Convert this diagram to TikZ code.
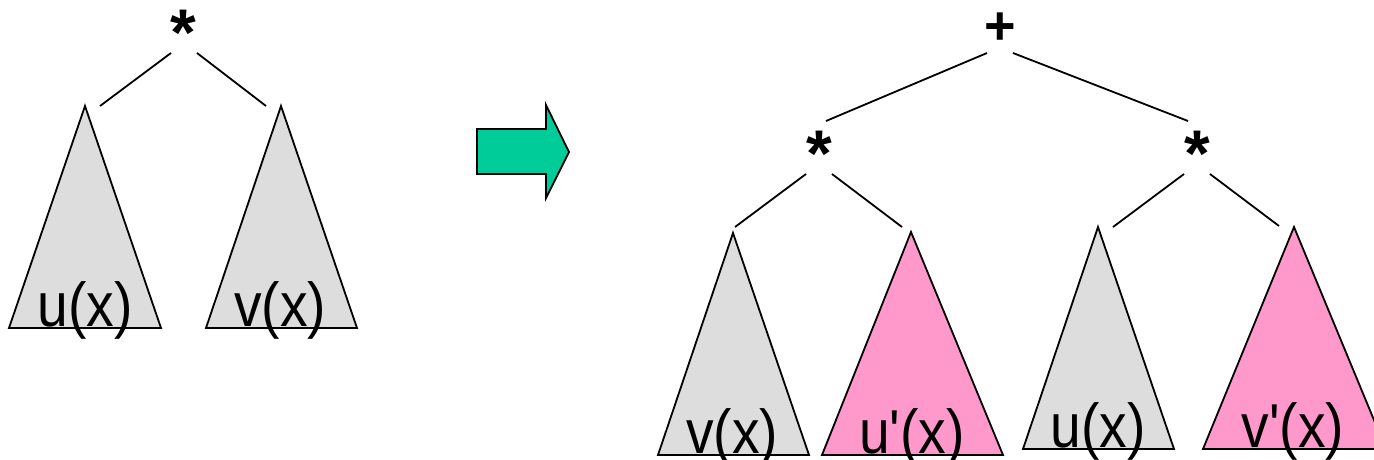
\documentclass[tikz,border=0pt]{standalone}
\usepackage{fontspec}
\setmainfont{Liberation Sans}[Ligatures=TeXOff]
\definecolor{triGray}{HTML}{DDDDDD}
\definecolor{triPink}{HTML}{FF99CC}
\definecolor{arrowGreen}{HTML}{00CC99}
\begin{document}
\begin{tikzpicture}[x=1pt,y=-1pt,
  edge/.style={line width=1.8pt},
  tri/.style={draw=black, line width=1.8pt, line join=miter},
  graytri/.style={tri, fill=triGray},
  pinktri/.style={tri, fill=triPink},
  lbl/.style={anchor=base, inner sep=0pt, font=\fontsize{62}{74}\selectfont},
  opstar/.style={anchor=north, inner sep=0pt, font=\bfseries\fontsize{66}{80}\selectfont},
  opplus/.style={anchor=north, inner sep=0pt, font=\bfseries\fontsize{54}{66}\selectfont}]
\useasboundingbox (0,0) rectangle (1374,459);

% ---------- left tree ----------
\node[opstar] (m0) at (183,10) {*};
\coordinate (m0l) at (171,53);
\coordinate (m0r) at (197,53);
\coordinate (a1) at (85,106);
\coordinate (a2) at (281,106);
\coordinate (e1) at (100,106);
\coordinate (e2) at (266,106);
\draw[graytri] (a1) -- (9,328) -- (161,328) -- cycle;
\draw[graytri] (a2) -- (206,328) -- (357,328) -- cycle;
\draw[edge] (m0l) -- (e1);
\draw[edge] (m0r) -- (e2);
\node[lbl] (lu) at (85,326) {\scalebox{0.89}[1]{u(x)}};
\node[lbl] (lv) at (280,326) {\scalebox{0.89}[1]{v(x)}};

% ---------- arrow ----------
\draw[line width=1.8pt, fill=arrowGreen, line join=miter]
  (477,129) -- (546,129) -- (546,105) -- (569,152) -- (546,198) -- (546,174) -- (477,174) -- cycle;

% ---------- right tree ----------
\node[opplus] (p) at (1000,13) {+};
\node[opstar] (sl) at (819,131) {*};
\node[opstar] (sr) at (1197,131) {*};
\coordinate (pl) at (987,53);
\coordinate (pr) at (1013,53);
\coordinate (slt) at (826,121);
\coordinate (srt) at (1188,121);
\coordinate (sll) at (806,174);
\coordinate (slr) at (832,174);
\coordinate (srl) at (1184,174);
\coordinate (srr) at (1210,174);
\coordinate (t1e) at (735,227);
\coordinate (t2e) at (902,227);
\coordinate (t3e) at (1113,227);
\coordinate (t4e) at (1279,226);
\coordinate (t1) at (733,233);
\coordinate (t2) at (911,232);
\coordinate (t3) at (1098,227);
\coordinate (t4) at (1294,227);

\draw[graytri] (t1) -- (658,455) -- (809,455) -- cycle;
\draw[pinktri] (t2) -- (822,455) -- (1003,455) -- cycle;
\draw[graytri] (t3) -- (1023,449) -- (1174,449) -- cycle;
\draw[pinktri] (t4) -- (1203,449) -- (1386,449) -- cycle;

\draw[edge] (pl) -- (slt);
\draw[edge] (pr) -- (srt);
\draw[edge] (sll) -- (t1e);
\draw[edge] (slr) -- (t2e);
\draw[edge] (srl) -- (t3e);
\draw[edge] (srr) -- (t4e);

\node[lbl] (b1) at (732,453) {\scalebox{0.89}[1]{v(x)}};
\node[lbl] (b2) at (912,453) {\scalebox{0.89}[1]{u'(x)}};
\node[lbl] (b3) at (1098,447) {\scalebox{0.89}[1]{u(x)}};
\node[lbl] (b4) at (1293,447) {\scalebox{0.89}[1]{v'(x)}};
\end{tikzpicture}
\end{document}
